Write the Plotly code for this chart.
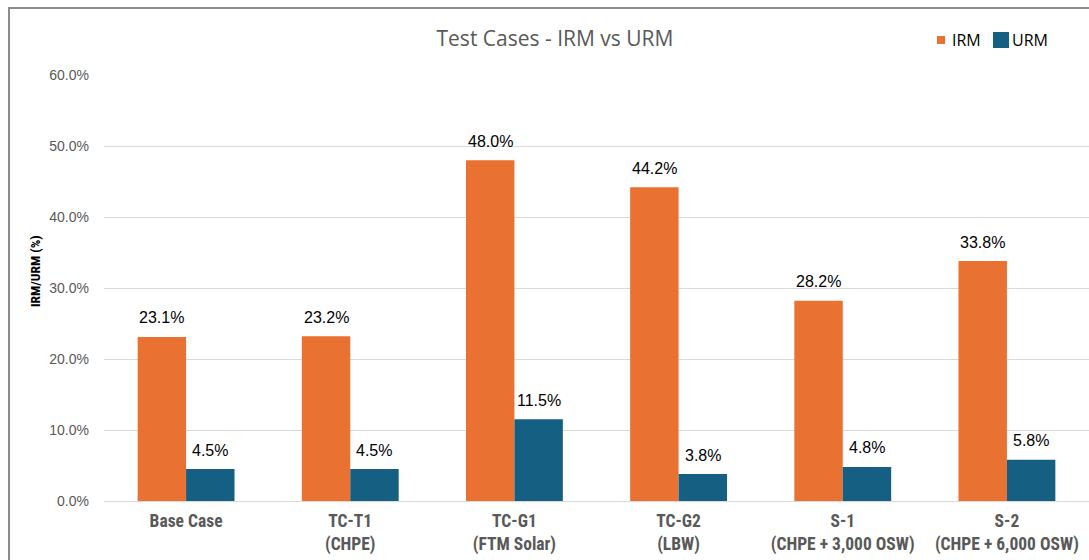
import plotly.graph_objects as go

categories = ["Base Case", "TC-T1<br>(CHPE)", "TC-G1<br>(FTM Solar)", "TC-G2<br>(LBW)",
              "S-1<br>(CHPE + 3,000 OSW)", "S-2<br>(CHPE + 6,000 OSW)"]
irm = [23.1, 23.2, 48.0, 44.2, 28.2, 33.8]
urm = [4.5, 4.5, 11.5, 3.8, 4.8, 5.8]
series_names = ["IRM", "URM"]
series_colors = ["#E97132", "#156082"]
y_ticks = [0, 10, 20, 30, 40, 50, 60]

W, H = 1089, 560
ML, MR, MT, MB = 104, 0, 75, 59
BARGAP = 0.41
plot_w = W - ML - MR
plot_h = H - MT - MB
cat_w = plot_w / len(categories)
bar_w = cat_w * (1 - BARGAP) / 2


def px_x(p):
    return (p - ML) / plot_w


def px_y(p):
    return (H - MB - p) / plot_h


fig = go.Figure()
for name, vals, col in zip(series_names, (irm, urm), series_colors):
    fig.add_trace(go.Bar(name=name, x=categories, y=vals,
                         marker=dict(color=col, line=dict(width=0))))

label_font = dict(family="Liberation Sans, Arial, sans-serif", size=16, color="#000000")
for i, cat in enumerate(categories):
    for vals, sgn in ((irm, -1), (urm, 1)):
        fig.add_annotation(x=cat, y=vals[i], xref="x", yref="y", text=f"{vals[i]:.1f}%",
                           showarrow=False, xshift=sgn * bar_w / 2, yshift=19,
                           yanchor="middle", font=label_font)

# y-axis title
fig.add_annotation(text="IRM/URM (%)", textangle=-90, xref="paper", yref="paper",
                   x=px_x(35), y=px_y(271), showarrow=False,
                   xanchor="center", yanchor="middle",
                   font=dict(family="Roboto", size=13.5, color="#000000", weight="bold"))

# legend (drawn manually, top right)
leg_font = dict(family="Open Sans", size=16, color="#000000")
fig.add_shape(type="rect", xref="paper", yref="paper", x0=px_x(937), x1=px_x(945),
              y0=px_y(44), y1=px_y(36), fillcolor=series_colors[0], line=dict(width=0))
fig.add_shape(type="rect", xref="paper", yref="paper", x0=px_x(993), x1=px_x(1009),
              y0=px_y(48), y1=px_y(32), fillcolor=series_colors[1], line=dict(width=0))
fig.add_annotation(text=series_names[0], xref="paper", yref="paper", x=px_x(950), y=px_y(40),
                   xanchor="left", yanchor="middle", showarrow=False, font=leg_font)
fig.add_annotation(text=series_names[1], xref="paper", yref="paper", x=px_x(1010), y=px_y(40),
                   xanchor="left", yanchor="middle", showarrow=False, font=leg_font)

fig.update_layout(
    width=W, height=H,
    margin=dict(l=ML, r=MR, t=MT, b=MB, autoexpand=False),
    paper_bgcolor="white", plot_bgcolor="white",
    barmode="group", bargap=BARGAP, bargroupgap=0,
    title=dict(text="Test Cases - IRM vs URM", x=px_x(555), xref="paper",
               xanchor="center", y=1.0 - 39 / H, yanchor="middle",
               font=dict(family="Open Sans", size=21, color="#595959")),
    showlegend=False,
)
fig.update_yaxes(
    range=[0, 60], tickvals=y_ticks, ticktext=[f"{v:.1f}%" for v in y_ticks],
    showgrid=True, gridcolor="#d9d9d9", gridwidth=1, zeroline=False,
    showline=False, ticks="", ticklabelstandoff=14, automargin=False,
    tickfont=dict(family="Liberation Sans, Arial, sans-serif", size=14, color="#595959"),
)
fig.update_xaxes(
    showline=True, linecolor="#d9d9d9", linewidth=1, ticks="",
    tickfont=dict(family="Roboto", size=17.5, color="#595959", weight="bold"),
    ticklabelstandoff=4, tickangle=0, automargin=False,
)
fig.add_shape(type="rect", xref="paper", yref="paper",
              x0=px_x(9), x1=1.02, y0=-0.3, y1=px_y(8),
              line=dict(color="#8c8c8c", width=2), fillcolor="rgba(0,0,0,0)", layer="below")

post = """
document.body.style.margin = '0';
document.body.style.overflow = 'hidden';
var gd = document.getElementById('{plot_id}');
gd.querySelectorAll('.xtick text').forEach(function (e) { e.style.fontStretch = 'condensed'; });
gd.querySelectorAll('.annotation-text').forEach(function (e) {
  if (e.textContent === 'IRM/URM (%)') e.style.fontStretch = 'condensed';
});
"""
fig.write_html("out.html", post_script=post, config={"displayModeBar": False})
